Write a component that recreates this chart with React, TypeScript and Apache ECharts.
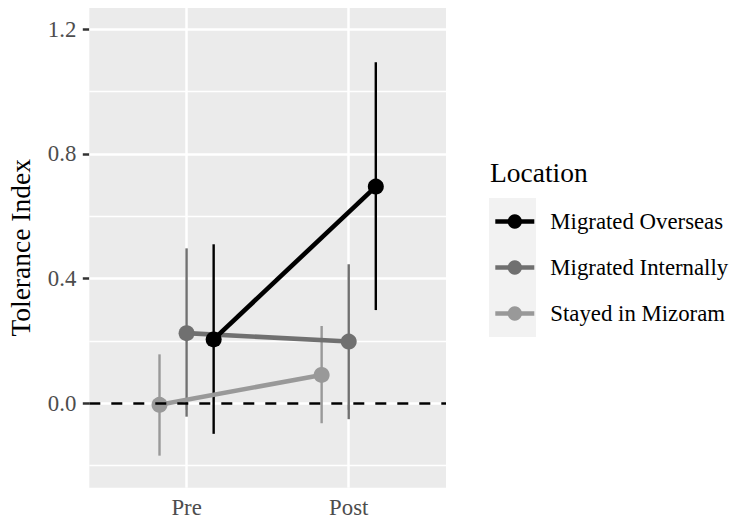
import React, { useEffect, useRef } from "react";
import * as echarts from "echarts";

const categories = ["Pre", "Post"];
const groups = ["Migrated Overseas", "Migrated Internally", "Stayed in Mizoram"];
const overseasMean = [0.205, 0.695];
const overseasLow = [-0.098, 0.299];
const overseasHigh = [0.51, 1.094];
const internalMean = [0.225, 0.198];
const internalLow = [-0.043, -0.051];
const internalHigh = [0.497, 0.446];
const stayedMean = [-0.005, 0.091];
const stayedLow = [-0.168, -0.064];
const stayedHigh = [0.157, 0.248];
const yTicks = [0, 0.4, 0.8, 1.2];
const yMinor = [-0.2, 0.2, 0.6, 1.0];

const FONT = "Liberation Serif";
const colors = ["#000000", "#707070", "#999999"];
const DODGE = [0.167, 0, -0.167];

export default function App() {
  const ref = useRef<HTMLDivElement>(null);
  useEffect(() => {
    const chart = echarts.init(ref.current!, null, { renderer: "svg" });
    const means = [overseasMean, internalMean, stayedMean];
    const lows = [overseasLow, internalLow, stayedLow];
    const highs = [overseasHigh, internalHigh, stayedHigh];
    const catPos = categories.map((_, i) => i + 1);

    const errSeries = groups.map((g, gi) => ({
      type: "custom",
      name: g + " (CI)",
      z: 2,
      silent: true,
      data: catPos.map((c, ci) => [c + DODGE[gi], lows[gi][ci], highs[gi][ci]]),
      encode: { x: 0, y: [1, 2] },
      renderItem: (params: any, api: any) => {
        const p1 = api.coord([api.value(0), api.value(1)]);
        const p2 = api.coord([api.value(0), api.value(2)]);
        return {
          type: "line",
          shape: { x1: p1[0], y1: p1[1], x2: p2[0], y2: p2[1] },
          style: { stroke: colors[gi], lineWidth: 2.4 },
        };
      },
    }));

    const lineSeries = groups
      .map((g, gi) => ({
        type: "line",
        name: g,
        z: 3 + (2 - gi) * 0.1,
        data: catPos.map((c, ci) => [c + DODGE[gi], means[gi][ci]]),
        symbol: "circle",
        symbolSize: 16,
        showSymbol: true,
        lineStyle: { color: colors[gi], width: 4.6 },
        itemStyle: { color: colors[gi] },
        emphasis: { disabled: true },
      }))
      .reverse();

    const gridSeries = {
      type: "line",
      name: "grid",
      data: [],
      z: 1,
      silent: true,
      markLine: {
        silent: true,
        z: 1,
        symbol: ["none", "none"],
        label: { show: false },
        animation: false,
        data: [
          ...yMinor.map((v) => ({ yAxis: v, lineStyle: { color: "#ffffff", width: 1.3, type: "solid" } })),
          ...yTicks.map((v) => ({ yAxis: v, lineStyle: { color: "#ffffff", width: 2.5, type: "solid" } })),
          ...catPos.map((v) => ({ xAxis: v, lineStyle: { color: "#ffffff", width: 2.5, type: "solid" } })),
        ],
      },
    };

    const zeroSeries = {
      type: "line",
      name: "zero",
      data: [],
      z: 10,
      silent: true,
      markLine: {
        silent: true,
        z: 10,
        symbol: ["none", "none"],
        label: { show: false },
        animation: false,
        data: [{ yAxis: 0, lineStyle: { color: "#000000", width: 2.7, type: [11, 11] } }],
      },
    };

    chart.setOption({
      animation: false,
      backgroundColor: "#ffffff",
      textStyle: { fontFamily: FONT },
      grid: {
        left: 89.3,
        top: 8,
        right: 293,
        bottom: 33.3,
        show: true,
        backgroundColor: "#ebebeb",
        borderWidth: 0,
        containLabel: false,
      },
      xAxis: {
        type: "value",
        min: 0.4,
        max: 2.6,
        splitLine: { show: false },
        axisLine: { show: false },
        axisTick: { show: true, customValues: catPos, length: 6.5, lineStyle: { color: "#333333", width: 2.5 } },
        axisLabel: {
          customValues: catPos,
          formatter: (v: number) => categories[Math.round(v) - 1] ?? "",
          fontFamily: FONT,
          fontSize: 22.8,
          color: "#4d4d4d",
          margin: 8,
        },
      },
      yAxis: {
        type: "value",
        min: -0.2708,
        max: 1.268,
        name: "Tolerance Index",
        nameLocation: "middle",
        nameGap: 55,
        nameRotate: 90,
        nameTextStyle: { fontFamily: FONT, fontSize: 27.5, color: "#000000" },
        splitLine: { show: false },
        axisLine: { show: false },
        axisTick: { show: true, customValues: yTicks, length: 6.5, lineStyle: { color: "#333333", width: 2.5 } },
        axisLabel: {
          customValues: yTicks,
          formatter: (v: number) => v.toFixed(1),
          fontFamily: FONT,
          fontSize: 22.8,
          color: "#4d4d4d",
          margin: 13,
        },
      },
      legend: {
        data: groups,
        orient: "vertical",
        left: 493,
        top: 210,
        padding: 0,
        itemWidth: 39,
        itemHeight: 18,
        itemGap: 23,
        selectedMode: false,
        lineStyle: { width: 4.6 },
        textStyle: { fontFamily: FONT, fontSize: 22.8, color: "#000000", padding: [0, 0, 0, 11] },
      },
      graphic: [
        {
          type: "rect",
          left: 489,
          top: 198,
          z: -1,
          shape: { width: 47, height: 139 },
          style: { fill: "#f2f2f2" },
          silent: true,
        },
        {
          type: "text",
          x: 490,
          y: 172,
          style: {
            text: "Location",
            font: `27.5px ${FONT}`,
            fill: "#000000",
            verticalAlign: "middle",
            align: "left",
          },
          silent: true,
        },
      ],
      series: [gridSeries, ...errSeries, ...lineSeries, zeroSeries],
    });
    return () => chart.dispose();
  }, []);
  return <div ref={ref} style={{ position: "fixed", left: 0, top: 0, width: 739, height: 521 }} />;
}
